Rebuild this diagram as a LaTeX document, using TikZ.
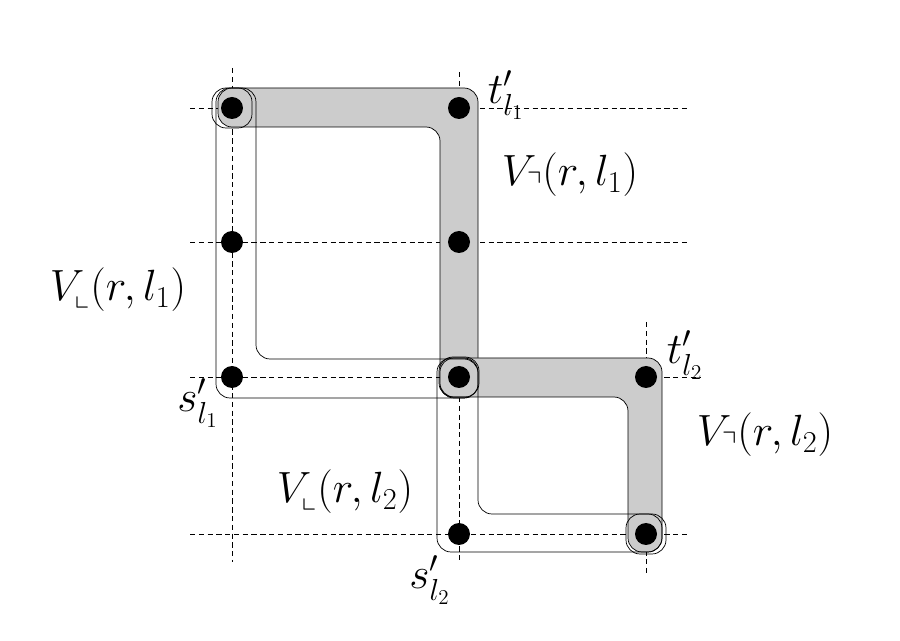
\documentclass[tikz,border=0pt]{standalone}
\usepackage{amsmath,amssymb}
\usepackage{tikz}

\begin{document}
\begin{tikzpicture}[x=0.02cm,y=-0.02cm,
    grid/.style={densely dashed,line width=0.5pt},
    dot/.style={circle,fill=black,inner sep=0pt,minimum size=0.44cm},
    lbl/.style={font=\fontsize{24}{28}\selectfont}]
    \useasboundingbox (0,0) rectangle (900,641);

    % grid
    \foreach \x/\a/\b in {232/68/562, 459/72/562, 646/322/575}
      \draw[grid] (\x,\a) -- (\x,\b);
    \foreach \y/\a/\b in {108/190/690, 242/190/690, 377/190/700, 534/190/690}
      \draw[grid] (\a,\y) -- (\b,\y);

    % shaded parts
    \draw[fill=black!20,rounded corners=8pt] (218,88) -- (478,88) -- (478,398) -- (440,398) -- (440,127) -- (218,127) -- cycle;
    \draw[fill=black!20,rounded corners=8pt] (440,358) -- (662,358) -- (662,552) -- (628,552) -- (628,397) -- (440,397) -- cycle;

    % outlines
    \draw[rounded corners=8pt] (216,88) -- (256,88) -- (256,359) -- (478,359) -- (478,398) -- (216,398) -- cycle;
    \draw[rounded corners=8pt] (437,358) -- (478,358) -- (478,514) -- (662,514) -- (662,552) -- (437,552) -- cycle;
    \foreach \x/\y in {232/108, 459/377, 646/534}
      \draw[rounded corners=8pt] (\x-20,\y-20) rectangle (\x+20,\y+20);

    % vertices
    \node[dot] (a1) at (232,108) {};
    \node[dot] (a2) at (459,108) {};
    \node[dot] (b1) at (232,242) {};
    \node[dot] (b2) at (459,242) {};
    \node[dot] (c1) at (232,377) {};
    \node[dot] (c2) at (459,377) {};
    \node[dot] (c3) at (646,377) {};
    \node[dot] (d2) at (459,534) {};
    \node[dot] (d3) at (646,534) {};

    % labels
    \node[lbl] (t1) at (506,95) {$t'_{l_1}$};
    \node[lbl] (v1) at (570,175) {$V_{\urcorner}(r,l_1)$};
    \node[lbl] (w1) at (118,290) {$V_{\llcorner}(r,l_1)$};
    \node[lbl] (t2) at (685,355) {$t'_{l_2}$};
    \node[lbl] (s1) at (198,403) {$s'_{l_1}$};
    \node[lbl] (v2) at (765,435) {$V_{\urcorner}(r,l_2)$};
    \node[lbl] (w2) at (345,492) {$V_{\llcorner}(r,l_2)$};
    \node[lbl] (s2) at (430,580) {$s'_{l_2}$};
\end{tikzpicture}
\end{document}
